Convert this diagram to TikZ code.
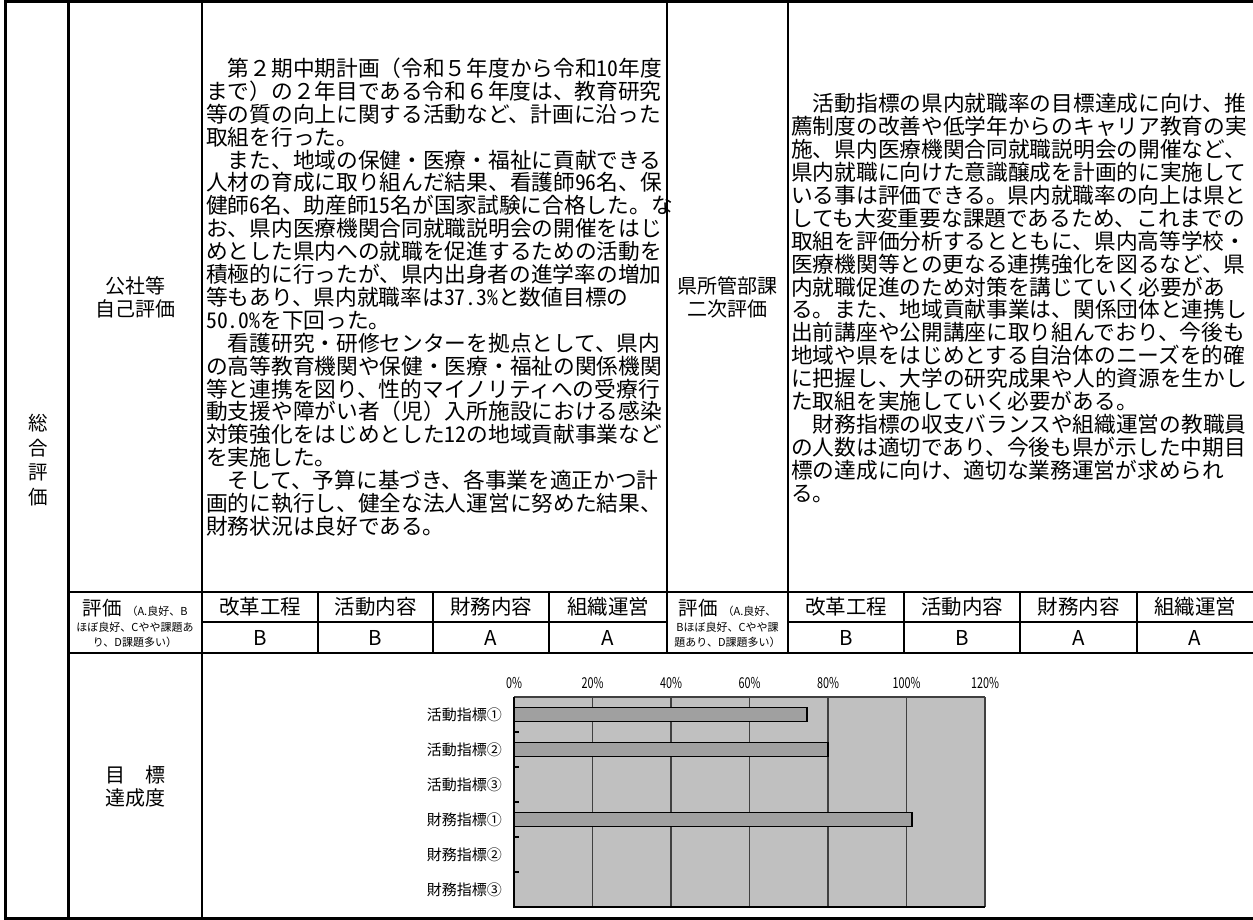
\documentclass[tikz,border=0pt]{standalone}
\usepackage{fontspec}
\setmainfont{Noto Sans CJK JP}
\newfontfamily\hw{Noto Sans CJK JP}[RawFeature=+hwid]
\definecolor{plotbg}{RGB}{192,192,192}
\definecolor{barfill}{RGB}{160,160,160}

\begin{document}
\begin{tikzpicture}[x=1pt,y=-1pt]
  \tikzset{outer/.style = {line width=3pt}}
  \tikzset{thinrule/.style = {line width=1.3pt}}
  \tikzset{body/.style = {align=left,inner sep=0pt,font=\fontsize{21.7}{22.9}\selectfont}}
  \tikzset{cellhead/.style = {align=center,inner sep=0pt,font=\fontsize{20}{23}\selectfont}}
  \tikzset{colhead/.style = {inner sep=0pt,font=\fontsize{20.5}{20.5}\selectfont}}
  \tikzset{note/.style = {inner sep=0pt,anchor=base,font=\fontsize{11}{11}\selectfont}}
  \tikzset{catname/.style = {anchor=east,inner sep=0pt,font=\fontsize{15}{15}\selectfont}}
  \tikzset{pctname/.style = {inner sep=0pt,font=\fontsize{15}{15}\selectfont}}
  \tikzset{gridline/.style = {draw=black!75,line width=1.1pt}}
  \tikzset{barbox/.style = {fill=barfill,draw=black,line width=1.8pt}}
  \useasboundingbox (0,0) rectangle (1253,920);

  % table rules
  \draw[outer] (1253,2) -- (5,2) -- (5,918) -- (1253,918);
  \draw[outer] (68,2) -- (68,918);
  \draw[thinrule] (202,2) -- (202,918);
  \draw[thinrule] (667,2) -- (667,653);
  \draw[thinrule] (788,2) -- (788,653);
  \draw[thinrule] (68,592) -- (1253,592);
  \draw[thinrule] (68,653) -- (1253,653);
  \draw[thinrule] (202,622) -- (667,622);
  \draw[thinrule] (788,622) -- (1253,622);
  \foreach \x in {318,433,549,904,1020,1137}
    \draw[thinrule] (\x,592) -- (\x,653);

  % row titles
  \node[cellhead,font=\fontsize{19.5}{24.5}\selectfont] (sogo) at (38,460) {総\\合\\評\\価};
  \node[cellhead] (jiko) at (135,297) {公社等\\自己評価};
  \node[cellhead] (niji) at (727.5,297) {県所管部課\\二次評価};
  \node[cellhead] (tasei) at (135,786) {目　標\\達成度};

  % self evaluation
  \node[body,anchor=west] (self) at (206,297) {%
　第２期中期計画（令和５年度から令和{\hw 10}年度\\
まで）の２年目である令和６年度は、教育研究\\
等の質の向上に関する活動など、計画に沿った\\
取組を行った。\\
　また、地域の保健・医療・福祉に貢献できる\\
人材の育成に取り組んだ結果、看護師{\hw 96}名、保\\
健師{\hw 6}名、助産師{\hw 15}名が国家試験に合格した。な\\
お、県内医療機関合同就職説明会の開催をはじ\\
めとした県内への就職を促進するための活動を\\
積極的に行ったが、県内出身者の進学率の増加\\
等もあり、県内就職率は{\hw 37.3\%}と数値目標の\\
{\hw 50.0\%}を下回った。\\
　看護研究・研修センターを拠点として、県内\\
の高等教育機関や保健・医療・福祉の関係機関\\
等と連携を図り、性的マイノリティへの受療行\\
動支援や障がい者（児）入所施設における感染\\
対策強化をはじめとした{\hw 12}の地域貢献事業など\\
を実施した。\\
　そして、予算に基づき、各事業を適正かつ計\\
画的に執行し、健全な法人運営に努めた結果、\\
財務状況は良好である。};

  % second evaluation
  \node[body,anchor=west] (second) at (791,298) {%
　活動指標の県内就職率の目標達成に向け、推\\
薦制度の改善や低学年からのキャリア教育の実\\
施、県内医療機関合同就職説明会の開催など、\\
県内就職に向けた意識醸成を計画的に実施して\\
いる事は評価できる。県内就職率の向上は県と\\
しても大変重要な課題であるため、これまでの\\
取組を評価分析するとともに、県内高等学校・\\
医療機関等との更なる連携強化を図るなど、県\\
内就職促進のため対策を講じていく必要があ\\
る。また、地域貢献事業は、関係団体と連携し\\
出前講座や公開講座に取り組んでおり、今後も\\
地域や県をはじめとする自治体のニーズを的確\\
に把握し、大学の研究成果や人的資源を生かし\\
た取組を実施していく必要がある。\\
　財務指標の収支バランスや組織運営の教職員\\
の人数は適切であり、今後も県が示した中期目\\
標の達成に向け、適切な業務運営が求められ\\
る。};

  % rating rows
  \node[note] (ea1) at (135,615.5) {{\fontsize{19.5}{19.5}\selectfont 評価}\hspace{5pt}（A.良好、B};
  \node[note] (ea2) at (135,631) {ほぼ良好、Cやや課題あ};
  \node[note] (ea3) at (135,646) {り、D課題多い）};
  \node[note] (eb1) at (727.5,615.5) {{\fontsize{19.5}{19.5}\selectfont 評価}\hspace{5pt}（A.良好、};
  \node[note] (eb2) at (727.5,631) {Bほぼ良好、Cやや課};
  \node[note] (eb3) at (727.5,646) {題あり、D課題多い）};
  \foreach \x/\t/\v [count=\i] in {260/改革工程/B, 375.5/活動内容/B, 491/財務内容/A, 608/組織運営/A,
      846/改革工程/B, 962/活動内容/B, 1078.5/財務内容/A, 1195/組織運営/A}
  {
    \node[colhead] (h\i) at (\x,607) {\t};
    \node[colhead] (v\i) at (\x,637.5) {\v};
  }

  % achievement chart
  \fill[plotbg] (514,697) rectangle (985,907);
  \foreach \k in {1,...,6}
    \draw[gridline] ({514+78.5*\k},697) -- ({514+78.5*\k},907);
  \draw[gridline] (514,697) -- (985,697);
  \foreach \k in {1,...,5}
    \draw[line width=1.1pt] (514,{697+35*\k}) -- ++(5,0);
  \foreach \v/\k in {74.6/0, 80/1, 101.5/3}
    \draw[barbox] (514,{707.5+35*\k}) rectangle ({514+3.925*\v},{721.5+35*\k});
  \draw[line width=1.6pt] (514,697) -- (514,907) -- (985,907);
  \foreach \p [count=\i from 0] in {0,20,40,60,80,100,120}
    \node[pctname] (p\i) at ({514+78.5*\i},683) {\scalebox{0.72}[1]{\p\%}};
  \foreach \t [count=\i from 0] in {活動指標①,活動指標②,活動指標③,財務指標①,財務指標②,財務指標③}
    \node[catname] (c\i) at (502,{714.5+35*\i}) {\t};
\end{tikzpicture}
\end{document}
